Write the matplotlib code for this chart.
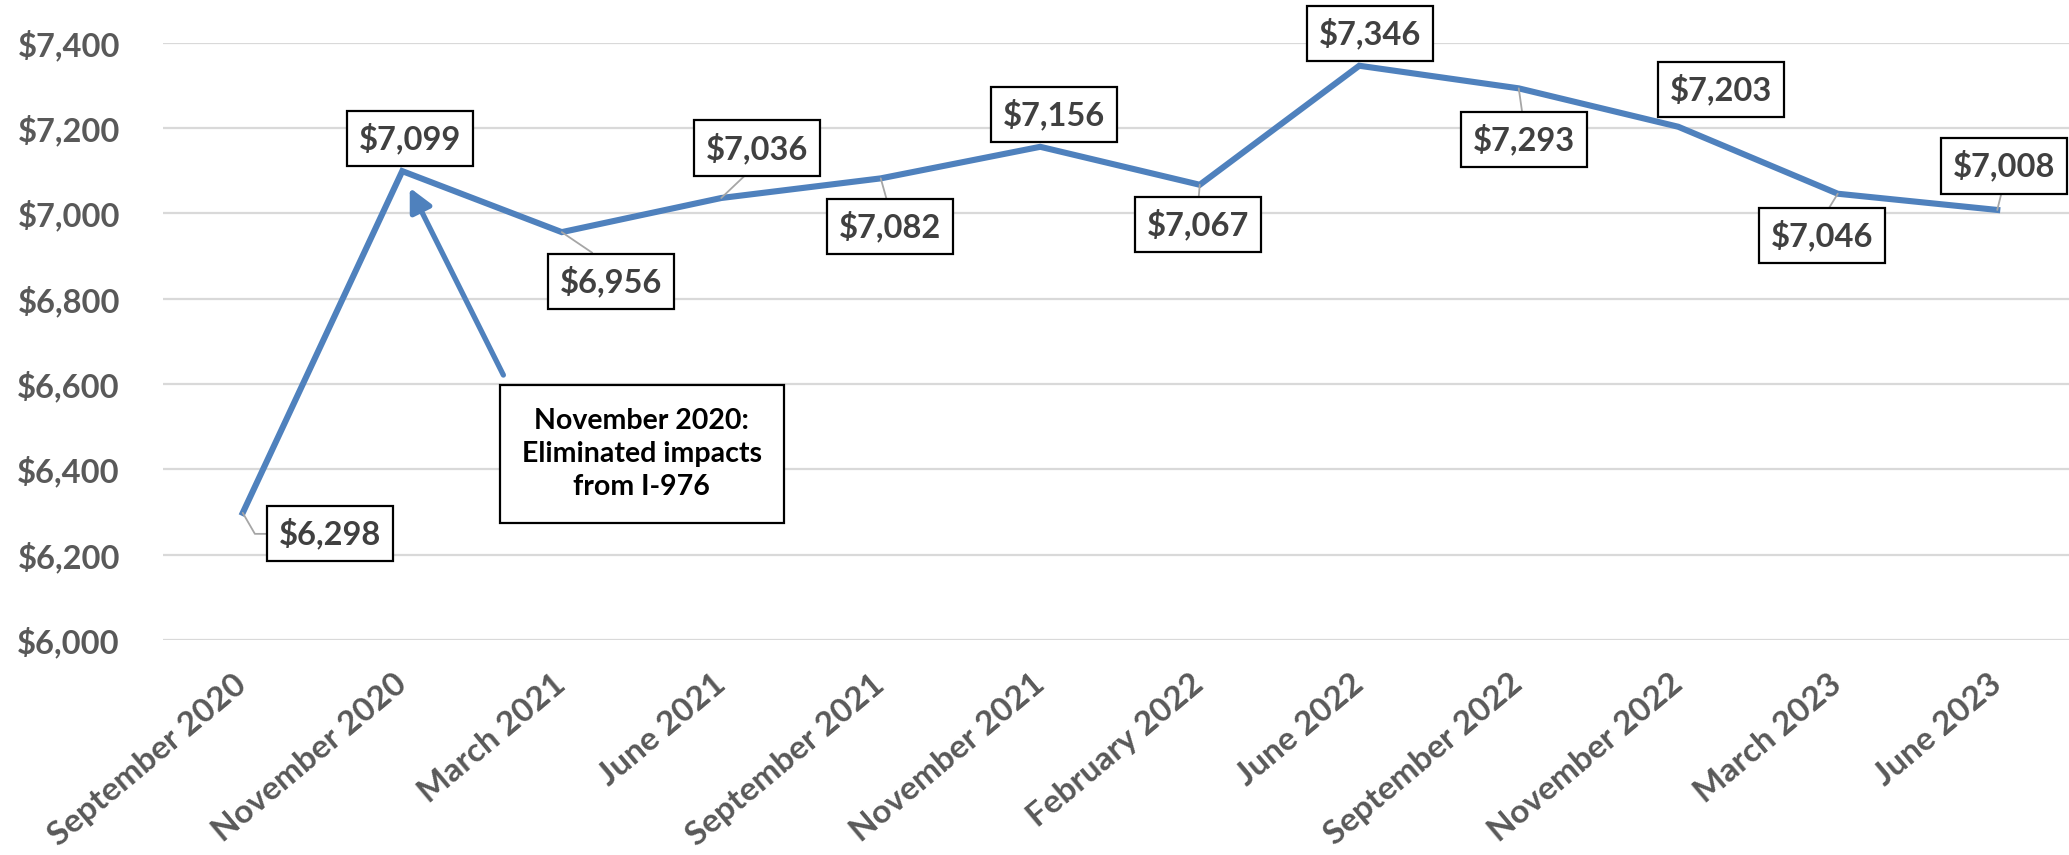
import matplotlib
matplotlib.use("Agg")
import matplotlib.pyplot as plt

plt.rcParams['font.family'] = ['Lato', 'DejaVu Sans']

# ---------------------------------------------------------------------------
# Data
# ---------------------------------------------------------------------------
months = ["September 2020", "November 2020", "March 2021", "June 2021",
          "September 2021", "November 2021", "February 2022", "June 2022",
          "September 2022", "November 2022", "March 2023", "June 2023"]
values = [6298, 7099, 6956, 7036, 7082, 7156, 7067, 7346, 7293, 7203, 7046, 7008]
y_ticks = [6000, 6200, 6400, 6600, 6800, 7000, 7200, 7400]

note_text = "November 2020:\nEliminated impacts\nfrom I-976"

# ---------------------------------------------------------------------------
# Layout / style
# ---------------------------------------------------------------------------
BLUE = "#4F81BD"
GRID = "#D9D9D9"
TICK_COLOR = "#595959"
LABEL_COLOR = "#404040"
LEADER = "#A6A6A6"

# where each value box sits relative to its point (pixels) and where the leader attaches
label_offsets = [(87, -21), (8, 33), (49, -49), (36, 50), (9, -48), (14, 32),
                 (-2, -40), (11, 32), (5, -51), (43, 37), (-16, -42), (7, 44)]
leader_sides = ["left", None, "top", "bottom", "top", None,
                "top", None, "top", None, "top", "bottom"]

W, H, DPI = 2069, 855, 100
fig = plt.figure(figsize=(W / DPI, H / DPI), dpi=DPI)
ax = fig.add_axes([163 / W, (H - 640) / H, (2077 - 163) / W, (640 - 42.7) / H])

x = list(range(len(months)))
ax.plot(x, values, color=BLUE, lw=4.4, solid_joinstyle="miter", zorder=3, clip_on=False)

ax.set_xlim(-0.5, len(months) - 0.5)
ax.set_ylim(y_ticks[0], y_ticks[-1])
ax.set_yticks(y_ticks)
ax.set_yticklabels([f"${v:,}" for v in y_ticks], fontsize=23.5, weight="bold", color=TICK_COLOR)
ax.yaxis.grid(True, color=GRID, lw=1.6)
ax.set_axisbelow(True)
for s in ax.spines.values():
    s.set_visible(False)
ax.tick_params(axis="both", length=0)
ax.tick_params(axis="y", pad=31)
ax.tick_params(axis="x", pad=29)

ax.set_xticks(x)
ax.set_xticklabels(months, rotation=40, ha="right", va="center", rotation_mode="anchor",
                   fontsize=24, weight="bold", color=TICK_COLOR)

# value labels
for i, v in enumerate(values):
    side = leader_sides[i]
    props = None
    if side == "top":
        props = dict(arrowstyle="-", color=LEADER, lw=1.3, relpos=(0.5, 1.0), shrinkA=0, shrinkB=0)
    elif side == "bottom":
        props = dict(arrowstyle="-", color=LEADER, lw=1.3, relpos=(0.5, 0.0), shrinkA=0, shrinkB=0)
    elif side == "left":
        props = dict(arrowstyle="-", color=LEADER, lw=1.3, relpos=(0.0, 0.5), shrinkA=0, shrinkB=0,
                     connectionstyle="angle,angleA=0,angleB=-60,rad=0")
    ax.annotate(f"${v:,}", xy=(i, v), xytext=label_offsets[i], textcoords="offset pixels",
                ha="center", va="center", fontsize=23.5, weight="bold", color=LABEL_COLOR,
                bbox=dict(boxstyle="square,pad=0.36", fc="white", ec="black", lw=1.6),
                arrowprops=props, annotation_clip=False, zorder=5)

# callout arrow and note
ax.annotate("", xy=(1.047, 7060), xytext=(1.634, 6621),
            arrowprops=dict(arrowstyle="-|>,head_length=0.7,head_width=0.35", color=BLUE,
                            lw=3.8, mutation_scale=20, shrinkA=0, shrinkB=0),
            annotation_clip=False, zorder=4)
ax.text(2.502, 6436, note_text, ha="center", va="center", fontsize=20.5, weight="bold",
        color="black", linespacing=1.35, zorder=5,
        bbox=dict(boxstyle="square,pad=0.78", fc="white", ec="black", lw=1.6))

fig.savefig("out.png", dpi=DPI)
